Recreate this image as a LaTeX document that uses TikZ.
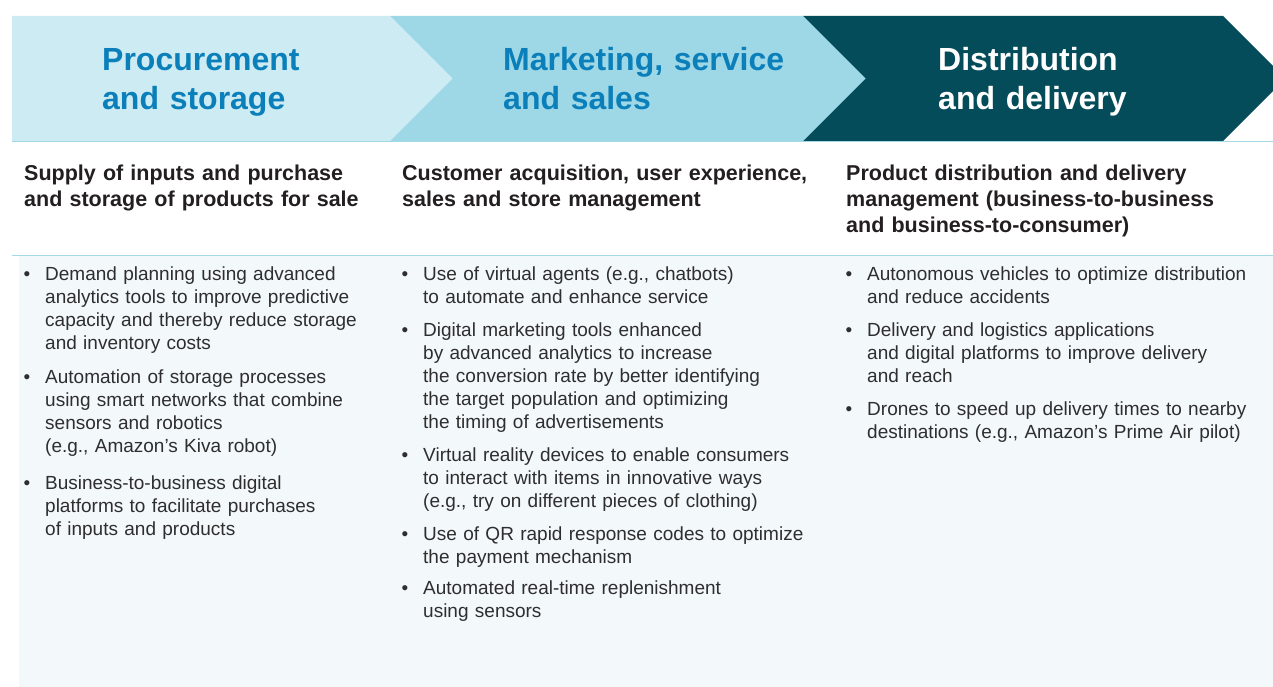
\documentclass[tikz,border=0pt]{standalone}
\usepackage{fontspec}
\setmainfont{Liberation Sans}
\usepackage{xcolor}

\definecolor{lightband}{HTML}{CDEBF2}
\definecolor{midband}{HTML}{9ED7E5}
\definecolor{darkband}{HTML}{044C5A}
\definecolor{headblue}{HTML}{0A7FBA}
\definecolor{rulecol}{HTML}{A3D9E6}
\definecolor{bodybg}{HTML}{F3F8FB}
\definecolor{subtext}{HTML}{231F20}
\definecolor{bodytext}{HTML}{2E2E2E}

\begin{document}
\begin{tikzpicture}[x=1pt,y=-1pt,
  heading/.style={anchor=base west, inner sep=0, align=left, text width=400pt,
    font=\fontsize{32}{39}\selectfont\bfseries},
  subhead/.style={anchor=base west, inner sep=0, align=left, text width=420pt, text=subtext,
    font=\fontsize{21.5}{26}\selectfont\bfseries},
  item/.style={anchor=base west, inner sep=0, align=left, text width=400pt, text=bodytext,
    font=\fontsize{19}{23}\selectfont},
  dot/.style={anchor=base, inner sep=0, text=bodytext, font=\fontsize{19}{23}\selectfont}]
\useasboundingbox (0,0) rectangle (1273,687);
\clip (0,0) rectangle (1273,687);

% Body background
\fill[bodybg] (19,256) rectangle (1273,687);

% Header band
\fill[darkband] (803,16) -- (1223,16) -- (1285.5,78.5) -- (1223,141) -- (803,141) -- cycle;
\fill[midband] (390,16) -- (803,16) -- (865.5,78.5) -- (803,141) -- (390,141) -- cycle;
\fill[lightband] (12,16) -- (390,16) -- (452.5,78.5) -- (390,141) -- (12,141) -- cycle;
\draw[rulecol, line width=1.5pt] (12,141.5) -- (1273,141.5);
\draw[rulecol, line width=1.5pt] (12,255.5) -- (1273,255.5);

\node[heading, text=headblue] (proc) at (102,71) {Procurement\\and storage};
\node[heading, text=headblue] (mark) at (503,71) {Marketing, service\\and sales};
\node[heading, text=white] (dist) at (938,71) {Distribution\\and delivery};

% Subheadings
\node[subhead] (procsub) at (24,180) {Supply of inputs and purchase\\and storage of products for sale};
\node[subhead] (marksub) at (402,180) {Customer acquisition, user experience,\\sales and store management};
\node[subhead] (distsub) at (846,180) {Product distribution and delivery\\management (business-to-business\\and business-to-consumer)};

% Procurement items
\node[dot] (pd1) at (27,280) {•};
\node[item] (p1) at (45,280) {Demand planning using advanced\\analytics tools to improve predictive\\capacity and thereby reduce storage\\and inventory costs};
\node[dot] (pd2) at (27,383) {•};
\node[item] (p2) at (45,383) {Automation of storage processes\\using smart networks that combine\\sensors and robotics\\(e.g., Amazon’s Kiva robot)};
\node[dot] (pd3) at (27,489) {•};
\node[item] (p3) at (45,489) {Business-to-business digital\\platforms to facilitate purchases\\of inputs and products};

% Marketing items
\node[dot] (md1) at (405,280) {•};
\node[item] (m1) at (423,280) {Use of virtual agents (e.g., chatbots)\\to automate and enhance service};
\node[dot] (md2) at (405,336) {•};
\node[item] (m2) at (423,336) {Digital marketing tools enhanced\\by advanced analytics to increase\\the conversion rate by better identifying\\the target population and optimizing\\the timing of advertisements};
\node[dot] (md3) at (405,461) {•};
\node[item] (m3) at (423,461) {Virtual reality devices to enable consumers\\to interact with items in innovative ways\\(e.g., try on different pieces of clothing)};
\node[dot] (md4) at (405,540) {•};
\node[item] (m4) at (423,540) {Use of QR rapid response codes to optimize\\the payment mechanism};
\node[dot] (md5) at (405,594) {•};
\node[item] (m5) at (423,594) {Automated real-time replenishment\\using sensors};

% Distribution items
\node[dot] (dd1) at (849,280) {•};
\node[item] (d1) at (867,280) {Autonomous vehicles to optimize distribution\\and reduce accidents};
\node[dot] (dd2) at (849,336) {•};
\node[item] (d2) at (867,336) {Delivery and logistics applications\\and digital platforms to improve delivery\\and reach};
\node[dot] (dd3) at (849,415) {•};
\node[item] (d3) at (867,415) {Drones to speed up delivery times to nearby\\destinations (e.g., Amazon’s Prime Air pilot)};
\end{tikzpicture}
\end{document}
